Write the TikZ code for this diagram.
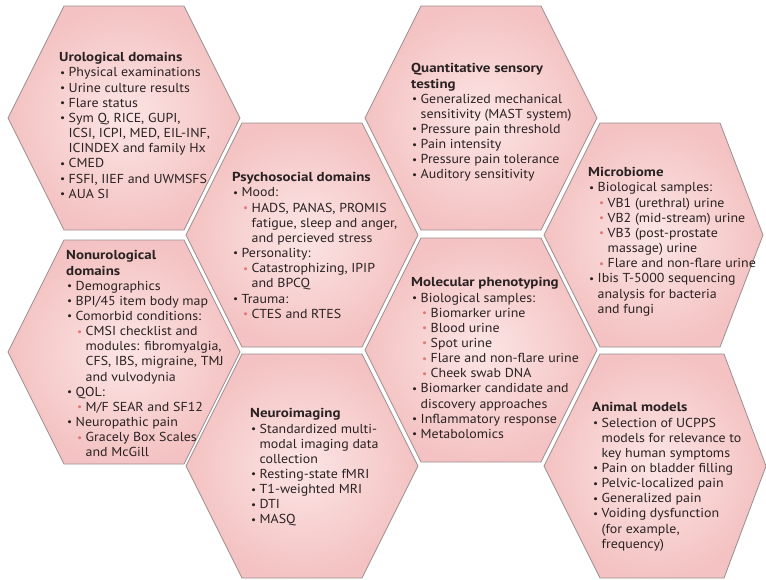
\documentclass[tikz,border=0pt]{standalone}
\usepackage{fontspec}
\setmainfont{PT Sans}[FakeStretch=1.07]
\newfontfamily\ttlfont{PT Sans}[FakeStretch=1.15]
\definecolor{hexin}{HTML}{FCE5E5}
\definecolor{hexout}{HTML}{F4C2C2}
\definecolor{hexline}{HTML}{9A8F8F}
\definecolor{subb}{HTML}{E07A7A}
\definecolor{txtc}{HTML}{2A2222}
\newcommand{\bul}{\raisebox{0.6pt}{\fontsize{10.5}{10.5}\selectfont •}}
\newcommand{\Ia}{\hspace*{1pt}\makebox[8.5pt][l]{\bul}}
\newcommand{\Ic}{\hspace*{9.5pt}}
\newcommand{\IIa}{\hspace*{11pt}\makebox[8.5pt][l]{\textcolor{subb}{\bul}}}
\newcommand{\IIc}{\hspace*{19.5pt}}
\newcommand{\ttl}[1]{{\ttlfont\bfseries #1}}
\tikzset{
  hexstyle/.style={draw=hexline, line width=0.8pt, inner color=hexin, outer color=hexout},
  hexa/.pic={\path[hexstyle]
     (-116,0) -- (-60,112) -- (60,112) -- (116,0) -- (60,-112) -- (-60,-112) -- cycle;},
  txt/.style={anchor=north west, align=left, inner sep=0pt, text=txtc,
     font=\fontsize{13}{15.15}\selectfont}
}
\begin{document}
\begin{tikzpicture}[x=1pt,y=-1pt]
\useasboundingbox (0,0) rectangle (766,579);
\begin{scope}
\clip (0,0) rectangle (766,579);
\pic at (124,118) {hexa};
\pic at (124,352) {hexa};
\pic at (302,235) {hexa};
\pic at (302,466) {hexa};
\pic at (481,118) {hexa};
\pic at (481,350) {hexa};
\path[hexstyle] (544,235) -- (600,123) -- (720,123) -- (763,235) -- (720,347) -- (600,347) -- cycle;
\path[hexstyle] (544,466) -- (600,354) -- (724,354) -- (766,466) -- (724,578) -- (600,578) -- cycle;
\end{scope}

\node[txt] (uro) at (59,52.4) {\ttl{Urological domains}\\
\Ia Physical examinations\\
\Ia Urine culture results\\
\Ia Flare status\\
\Ia Sym Q, RICE, GUPI,\\
\Ic ICSI, ICPI, MED, EIL-INF,\\
\Ic ICINDEX and family Hx\\
\Ia CMED\\
\Ia FSFI, IIEF and UWMSFS\\
\Ia AUA SI};

\node[txt] (nonuro) at (66,250.4) {\ttl{Nonurological}\\
\ttl{domains}\\
\Ia Demographics\\
\Ia BPI/45 item body map\\
\Ia Comorbid conditions:\\
\IIa CMSI checklist and\\
\IIc modules: fibromyalgia,\\
\IIc CFS, IBS, migraine, TMJ\\
\IIc and vulvodynia\\
\Ia QOL:\\
\IIa M/F SEAR and SF12\\
\Ia Neuropathic pain\\
\IIa Gracely Box Scales\\
\IIc and McGill};

\node[txt] (psycho) at (232,172.4) {\ttl{Psychosocial domains}\\
\Ia Mood:\\
\IIa HADS, PANAS, PROMIS\\
\IIc fatigue, sleep and anger,\\
\IIc and percieved stress\\
\Ia Personality:\\
\IIa Catastrophizing, IPIP\\
\IIc and BPCQ\\
\Ia Trauma:\\
\IIa CTES and RTES};

\node[txt] (qst) at (411,63.4) {\ttl{Quantitative sensory}\\
\ttl{testing}\\
\Ia Generalized mechanical\\
\Ic sensitivity (MAST system)\\
\Ia Pressure pain threshold\\
\Ia Pain intensity\\
\Ia Pressure pain tolerance\\
\Ia Auditory sensitivity};

\node[txt] (micro) at (588,167.4) {\ttl{Microbiome}\\
\Ia Biological samples:\\
\IIa VB1 (urethral) urine\\
\IIa VB2 (mid-stream) urine\\
\IIa VB3 (post-prostate\\
\IIc massage) urine\\
\IIa Flare and non-flare urine\\
\Ia Ibis T-5000 sequencing\\
\Ic analysis for bacteria\\
\Ic and fungi};

\node[txt] (molec) at (411,277.4) {\ttl{Molecular phenotyping}\\
\Ia Biological samples:\\
\IIa Biomarker urine\\
\IIa Blood urine\\
\IIa Spot urine\\
\IIa Flare and non-flare urine\\
\IIa Cheek swab DNA\\
\Ia Biomarker candidate and\\
\Ic discovery approaches\\
\Ia Inflammatory response\\
\Ia Metabolomics};

\node[txt] (neuro) at (250,408.4) {\ttl{Neuroimaging}\\
\Ia Standardized multi-\\
\Ic modal imaging data\\
\Ic collection\\
\Ia Resting-state fMRI\\
\Ia T1-weighted MRI\\
\Ia DTI\\
\Ia MASQ};

\node[txt] (animal) at (592,402.4) {\ttl{Animal models}\\
\Ia Selection of UCPPS\\
\Ic models for relevance to\\
\Ic key human symptoms\\
\Ia Pain on bladder filling\\
\Ia Pelvic-localized pain\\
\Ia Generalized pain\\
\Ia Voiding dysfunction\\
\Ic (for example,\\
\Ic frequency)};
\end{tikzpicture}
\end{document}
